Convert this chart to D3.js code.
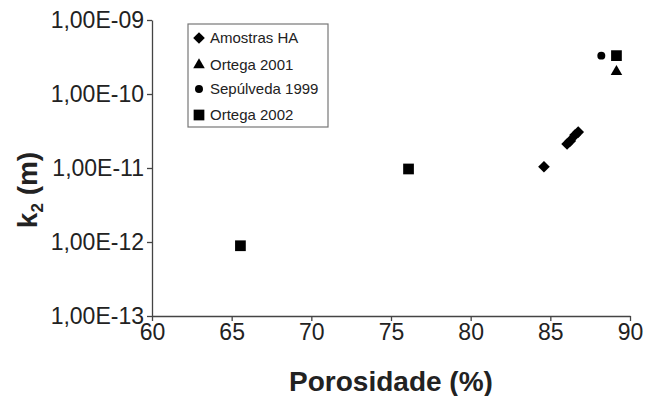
<!DOCTYPE html>
<html>
<head>
<meta charset="utf-8">
<script src="https://cdn.jsdelivr.net/npm/d3@7"></script>
<style>
  body { margin: 0; background: #fff; }
  text { font-family: Arial, "Liberation Sans", sans-serif; fill: #222; }
</style>
</head>
<body>
<script>
// data
var seriesNames = ["Amostras HA", "Ortega 2001", "Sepúlveda 1999", "Ortega 2002"];
var amostrasPor = [84.6, 86.05, 86.25, 86.55, 86.75];
var amostrasK = [1.04e-11, 2.11e-11, 2.32e-11, 2.79e-11, 3.06e-11];
var ortega2001Por = [89.15];
var ortega2001K = [2.0e-10];
var sepulvedaPor = [88.2];
var sepulvedaK = [3.3e-10];
var ortega2002Por = [65.55, 76.1, 89.15];
var ortega2002K = [8.9e-13, 9.7e-12, 3.3e-10];
var xTicks = [60, 65, 70, 75, 80, 85, 90];
var yTicks = [1e-13, 1e-12, 1e-11, 1e-10, 1e-9];

var svgWidth = 657, svgHeight = 396;
var margin = {top: 20, right: 27, bottom: 80, left: 152};

var svg = d3.select("body").append("svg")
  .attr("width", svgWidth)
  .attr("height", svgHeight);

var x = d3.scaleLinear().domain([60, 90]).range([margin.left, svgWidth - margin.right]);
var y = d3.scaleLog().domain([1e-13, 1e-9]).range([svgHeight - margin.bottom, margin.top]);

var fmt = d => "1,00E-" + String(-Math.round(Math.log10(d))).padStart(2, "0");

// axes
var xAxis = svg.append("g")
  .attr("transform", `translate(0, ${y(1e-13)})`)
  .call(d3.axisBottom(x).tickValues(xTicks).tickSize(5).tickSizeOuter(0).tickPadding(3));
var yAxis = svg.append("g")
  .attr("transform", `translate(${x(60)}, 0)`)
  .call(d3.axisLeft(y).tickValues(yTicks).tickFormat(fmt).tickSize(5).tickSizeOuter(0).tickPadding(3));

[xAxis, yAxis].forEach(function(g) {
  g.select(".domain").attr("stroke", "#444").attr("stroke-width", 1.3);
  g.selectAll(".tick line").attr("stroke", "#444").attr("stroke-width", 1.3);
  g.selectAll(".tick text").attr("font-size", "23px").attr("fill", "#222")
    .style("font-family", "Arial, 'Liberation Sans', sans-serif");
});

// axis titles
svg.append("text")
  .attr("x", (x(60) + x(90)) / 2)
  .attr("y", 391)
  .attr("text-anchor", "middle")
  .attr("font-size", "28px")
  .attr("font-weight", "bold")
  .text("Porosidade (%)");

var yt = svg.append("text")
  .attr("transform", "translate(37, 190) rotate(-90)")
  .attr("text-anchor", "middle")
  .attr("font-size", "28px")
  .attr("font-weight", "bold");
yt.append("tspan").text("k");
yt.append("tspan").attr("font-size", "17px").attr("dy", 6).text("2");
yt.append("tspan").attr("dy", -6).text(" (m)");

// markers
var shapes = [
  {name: seriesNames[0], xs: amostrasPor, ks: amostrasK, type: d3.symbolSquare, size: 68, rot: 45},
  {name: seriesNames[1], xs: ortega2001Por, ks: ortega2001K, type: d3.symbolTriangle, size: 58, rot: 0},
  {name: seriesNames[2], xs: sepulvedaPor, ks: sepulvedaK, type: d3.symbolCircle, size: 50, rot: 0},
  {name: seriesNames[3], xs: ortega2002Por, ks: ortega2002K, type: d3.symbolSquare, size: 115, rot: 0}
];

shapes.forEach(function(s) {
  var pts = s.xs.map((v, i) => ({p: v, k: s.ks[i]}));
  svg.append("g").selectAll("path")
    .data(pts)
    .enter()
    .append("path")
    .attr("d", d3.symbol().type(s.type).size(s.size))
    .attr("transform", d => `translate(${x(d.p)}, ${y(d.k)}) rotate(${s.rot})`)
    .attr("fill", "#000");
});

// legend
var legend = svg.append("g").attr("transform", "translate(188, 24)");
legend.append("rect")
  .attr("width", 140).attr("height", 103)
  .attr("fill", "#fff").attr("stroke", "#777").attr("stroke-width", 1.2);

var rowY = [14, 41, 65, 91];
shapes.forEach(function(s, i) {
  var row = legend.append("g").attr("transform", `translate(11, ${rowY[i]})`);
  row.append("path")
    .attr("d", d3.symbol().type(s.type).size(s.size))
    .attr("transform", `rotate(${s.rot})`)
    .attr("fill", "#000");
  row.append("text")
    .attr("x", 11)
    .attr("dy", "0.36em")
    .attr("font-size", "15px")
    .text(s.name);
});
</script>
</body>
</html>
